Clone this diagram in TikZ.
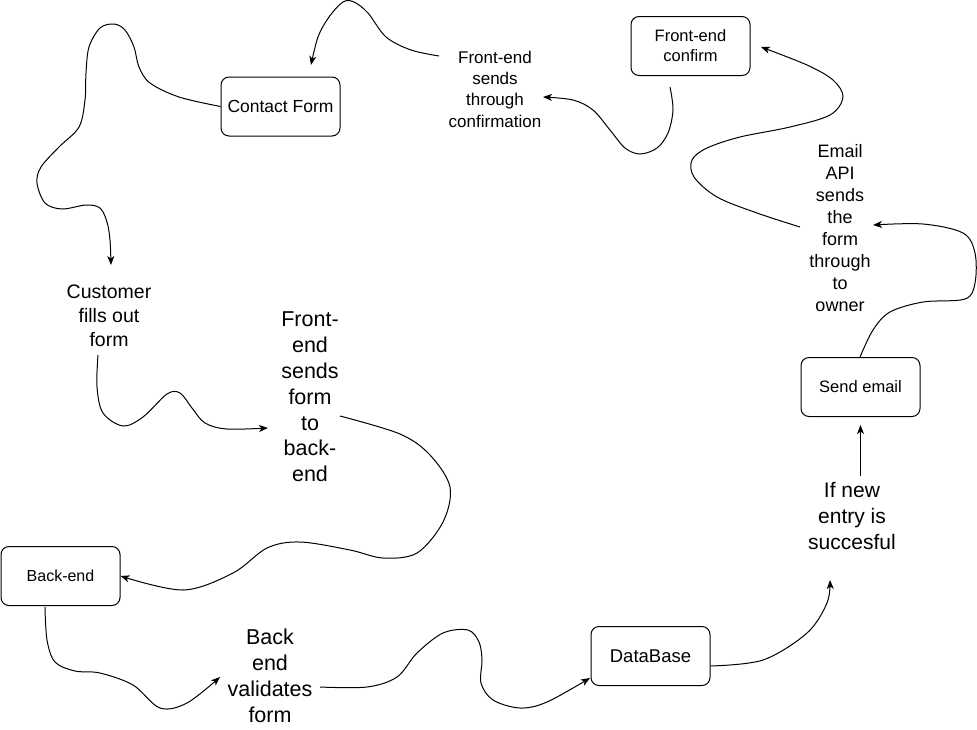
\documentclass[tikz,border=0pt]{standalone}
\usepackage{fontspec}
\setmainfont{Liberation Sans}
\usetikzlibrary{arrows.meta}
\begin{document}
\begin{tikzpicture}[x=1pt,y=-1pt,
  box/.style={draw, rounded corners=8pt, minimum width=119pt, minimum height=59pt, line width=1pt, align=center, inner sep=0pt},
  lbl/.style={align=center, inner sep=0pt},
  conn/.style={line width=1pt, -{Stealth[length=9pt,width=7pt,inset=2.5pt]}}]
\fill[white] (0,0) rectangle (977,729);
\useasboundingbox (0,0) rectangle (977,729);

% boxes
\node[box, font=\fontsize{17.5}{21}\selectfont] (cf) at (280.5,106.5) {Contact Form};
\node[box, font=\fontsize{16.5}{20}\selectfont] (fec) at (690.5,46) {Front-end\\confirm};
\node[box, font=\fontsize{16.5}{20}\selectfont] (se) at (860.5,387) {Send email};
\node[box, font=\fontsize{16}{19}\selectfont] (be) at (60.5,576) {Back-end};
\node[box, font=\fontsize{18.5}{22}\selectfont] (db) at (650.5,656) {DataBase};

% labels
\node[lbl, font=\fontsize{17}{21.3}\selectfont] (conf) at (495,89) {Front-end\\sends\\through\\confirmation};
\node[lbl, font=\fontsize{18}{21.9}\selectfont] (email) at (840,228) {Email\\API\\sends\\the\\form\\through\\to\\owner};
\node[lbl, font=\fontsize{19.5}{24}\selectfont] (cust) at (109,316) {Customer\\fills out\\form};
\node[lbl, font=\fontsize{21.5}{25.8}\selectfont] (fes) at (310,397) {Front-\\end\\sends\\form\\to\\back-\\end};
\node[lbl, font=\fontsize{21.5}{26}\selectfont] (bval) at (270,676) {Back\\end\\validates\\form};
\node[lbl, font=\fontsize{21}{26}\selectfont] (ifn) at (852,516) {If new\\entry is\\succesful};

% connector end points
\coordinate (c1e) at (111,265);
\coordinate (c2s) at (98,355);
\coordinate (c2e) at (268,428);
\coordinate (c3s) at (340,416);
\coordinate (c4s) at (45,607);
\coordinate (c4e) at (220,677);
\coordinate (c5s) at (320,687);
\coordinate (c5e) at (590,678);
\coordinate (c6e) at (830,580);
\coordinate (c7s) at (860.5,476);
\coordinate (c7e) at (860.5,425);
\coordinate (c8s) at (860,357);
\coordinate (c8e) at (873,225);
\coordinate (c9s) at (800,227);
\coordinate (c9e) at (761,47);
\coordinate (c10s) at (670,87);
\coordinate (c10e) at (543,97);
\coordinate (c11s) at (439,56);
\coordinate (c11e) at (311,65);

% connectors
\draw[conn] plot[smooth, tension=0.55] coordinates {(cf.west) (179,97) (150,83) (139,67) (134,47) (125,30) (114,24) (100,28) (89,47) (86,73) (85,100) (79,127) (59,147) (41,167) (37,183) (45,203) (62,209) (86,205) (100,208) (107,222) (110,240) (c1e)};
\draw[conn] plot[smooth, tension=0.55] coordinates {(c2s) (97,387) (103,413) (123,426) (143,417) (167,394) (180,393) (192,408) (205,423) (227,429) (c2e)};
\draw[conn] plot[smooth, tension=0.55] coordinates {(c3s) (400,434) (430,455) (450,487) (443,522) (417,553) (383,558) (350,550) (300,542) (267,548) (233,573) (183,590) (be.east)};
\draw[conn] plot[smooth, tension=0.55] coordinates {(c4s) (47,640) (55,662) (75,671) (100,673) (133,685) (160,708) (187,703) (c4e)};
\draw[conn] plot[smooth, tension=0.55] coordinates {(c5s) (367,687) (397,677) (417,653) (443,633) (468,630) (479,642) (482,660) (481,683) (493,700) (520,708) (547,702) (c5e)};
\draw[conn] plot[smooth, tension=0.55] coordinates {([yshift=-10pt]db.east) (763,660) (807,633) (827,603) (c6e)};
\draw[conn] (c7s) -- (c7e);
\draw[conn] plot[smooth, tension=0.55] coordinates {(c8s) (873,330) (890,312) (923,302) (965,299) (975,283) (975,253) (963,233) (923,224) (c8e)};
\draw[conn] plot[smooth, tension=0.55] coordinates {(c9s) (757,213) (717,197) (694,177) (692,160) (707,148) (740,137) (790,127) (830,115) (843,97) (833,80) (807,65) (c9e)};
\draw[conn] plot[smooth, tension=0.55] coordinates {(c10s) (673,110) (668,133) (657,148) (640,154) (625,148) (610,130) (593,110) (573,100) (c10e)};
\draw[conn] plot[smooth, tension=0.55] coordinates {(c11s) (411,50) (386,37) (368,13) (354,2) (343,2) (329,17) (318,37) (c11e)};
\end{tikzpicture}
\end{document}
